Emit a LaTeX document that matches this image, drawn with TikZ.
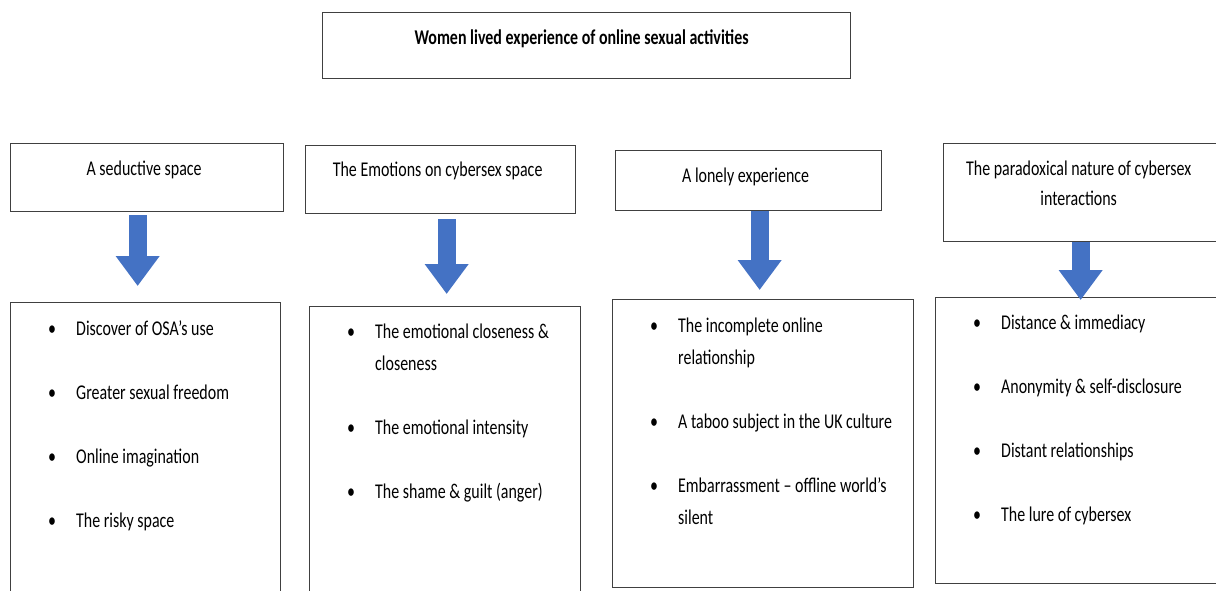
\documentclass[tikz,border=0pt]{standalone}
\usepackage{fontspec}
\setmainfont{Carlito}[FakeStretch=0.76]
\usetikzlibrary{arrows.meta}
\definecolor{officeblue}{HTML}{4472C4}
\definecolor{boxline}{HTML}{404040}
\newcommand{\dotitem}{\makebox[12pt]{\textbullet}\hspace*{18pt}}
\newcommand{\dotpad}{\hspace*{30pt}}
\tikzset{
    x=1pt, y=-1pt, % pixel units, y runs downwards
    box/.style={draw=boxline, line width=1.3pt, anchor=north west, inner sep=0pt}, % the plain rectangles
    boxtext/.style={font=\fontsize{21}{30}\selectfont, align=center},
    titletext/.style={font=\fontsize{21}{30}\selectfont\bfseries},
    points/.style={font=\fontsize{21}{32}\selectfont, align=left, anchor=north west, inner sep=0pt}, % bullet lists
    downarrow/.style={draw=officeblue, line width=18pt, -{Triangle[width=42pt, length=30pt]}}, % the blue block arrows
    }

\begin{document}
\begin{tikzpicture}
    \useasboundingbox (0,0) rectangle (1216,590);
    \clip (0,0) rectangle (1216,590);

    % title
    \node[box, minimum width=528pt, minimum height=66pt] (title) at (322,12) {};
    \node[titletext] (ttl) at ([xshift=-5pt,yshift=-27pt]title.north) {Women lived experience of online sexual activities};

    % the four themes
    \node[box, minimum width=273pt, minimum height=68pt] (h1) at (10,143) {};
    \node[box, minimum width=270pt, minimum height=68pt] (h2) at (305,145) {};
    \node[box, minimum width=266pt, minimum height=60pt] (h3) at (615,150) {};
    \node[box, minimum width=280pt, minimum height=98pt] (h4) at (943,143) {};

    \node[boxtext] (t1) at ([xshift=-3pt,yshift=-27pt]h1.north) {A seductive space};
    \node[boxtext] (t2) at ([xshift=-3pt,yshift=-26pt]h2.north) {The Emotions on cybersex space};
    \node[boxtext] (t3) at ([xshift=-3pt,yshift=-27pt]h3.north) {A lonely experience};
    \node[boxtext] (t4) at ([xshift=-5pt,yshift=-40pt]h4.north) {The paradoxical nature of cybersex\\interactions};

    % sub-themes
    \node[box, minimum width=270pt, minimum height=320pt] (b1) at (10,302) {};
    \node[box, minimum width=271pt, minimum height=320pt] (b2) at (309,306) {};
    \node[box, minimum width=301pt, minimum height=288pt] (b3) at (612,299) {};
    \node[box, minimum width=290pt, minimum height=286pt] (b4) at (935,297) {};

    \node[points] (l1) at ([xshift=36pt,yshift=-18pt]b1.north west) {\dotitem Discover of OSA’s use\\[32pt]\dotitem Greater sexual freedom\\[32pt]\dotitem Online imagination\\[32pt]\dotitem The risky space};
    \node[points] (l2) at ([xshift=36pt,yshift=-18pt]b2.north west) {\dotitem The emotional closeness \&\\\dotpad closeness\\[32pt]\dotitem The emotional intensity\\[32pt]\dotitem The shame \& guilt (anger)};
    \node[points] (l3) at ([xshift=36pt,yshift=-19pt]b3.north west) {\dotitem The incomplete online\\\dotpad relationship\\[32pt]\dotitem A taboo subject in the UK culture\\[32pt]\dotitem Embarrassment – offline world’s\\\dotpad silent};
    \node[points] (l4) at ([xshift=36pt,yshift=-18pt]b4.north west) {\dotitem Distance \& immediacy\\[32pt]\dotitem Anonymity \& self-disclosure\\[32pt]\dotitem Distant relationships\\[32pt]\dotitem The lure of cybersex};

    % arrows from theme to sub-themes
    \draw[downarrow] ([xshift=-9.5pt,yshift=-3pt]h1.south) -- ([xshift=-8pt,yshift=16pt]b1.north);
    \draw[downarrow] ([xshift=6pt,yshift=-5pt]h2.south) -- ([xshift=1.5pt,yshift=12pt]b2.north);
    \draw[downarrow] ([xshift=11pt]h3.south) -- ([xshift=-3.5pt,yshift=9pt]b3.north);
    \draw[downarrow] ([xshift=-3pt]h4.south) -- ([yshift=-3pt]b4.north);
\end{tikzpicture}
\end{document}
